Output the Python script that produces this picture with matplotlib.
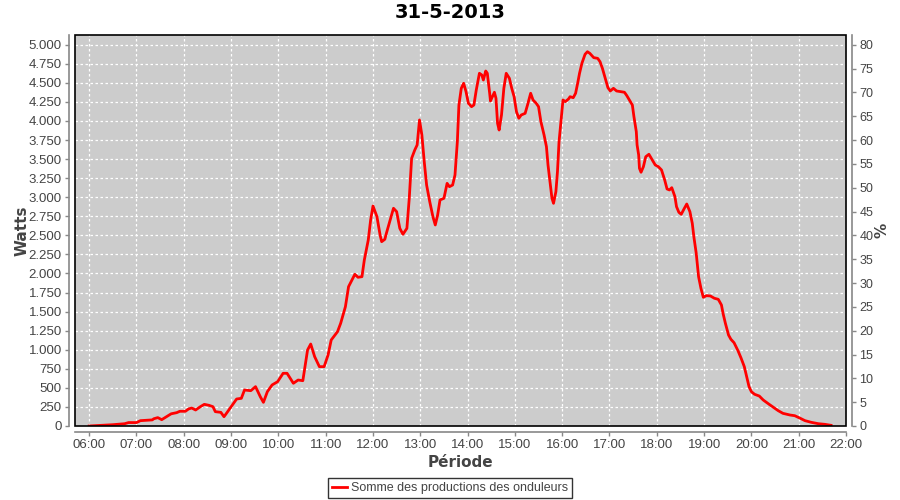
import matplotlib
matplotlib.use("Agg")
import matplotlib.pyplot as plt
import matplotlib.dates as mdates
from matplotlib.ticker import FuncFormatter, MultipleLocator
from matplotlib.patches import Rectangle
import pandas as pd

title = "31-5-2013"
series_name = "Somme des productions des onduleurs"
day = "2013-05-31"

times = [
    "06:00", "06:15", "06:30", "06:45", "06:50", "07:00", "07:05", "07:20", "07:22", "07:27",
    "07:32", "07:38", "07:44", "07:51", "07:55", "08:02", "08:06", "08:10", "08:15", "08:21",
    "08:26", "08:32", "08:37", "08:40", "08:47", "08:51", "08:53", "09:00", "09:07", "09:13",
    "09:17", "09:25", "09:31", "09:37", "09:41", "09:46", "09:52", "09:59", "10:06", "10:11",
    "10:19", "10:25", "10:31", "10:37", "10:41", "10:46", "10:52", "10:58", "11:03", "11:07",
    "11:15", "11:19", "11:25", "11:29", "11:37", "11:41", "11:46", "11:49", "11:54", "11:57",
    "12:00", "12:05", "12:09", "12:11", "12:15", "12:17", "12:26", "12:30", "12:34", "12:38",
    "12:43", "12:46", "12:49", "12:53", "12:56", "12:59", "13:02", "13:05", "13:08", "13:12",
    "13:16", "13:19", "13:22", "13:25", "13:30", "13:34", "13:37", "13:41", "13:44", "13:47",
    "13:49", "13:52", "13:55", "13:58", "14:01", "14:05", "14:08", "14:11", "14:15", "14:18",
    "14:20", "14:23", "14:25", "14:28", "14:29", "14:34", "14:36", "14:38", "14:40", "14:43",
    "14:46", "14:49", "14:53", "14:56", "14:59", "15:02", "15:05", "15:08", "15:13", "15:16",
    "15:20", "15:23", "15:27", "15:30", "15:33", "15:37", "15:40", "15:42", "15:44", "15:47",
    "15:49", "15:52", "15:54", "15:56", "15:58", "16:01", "16:04", "16:08", "16:10", "16:14",
    "16:17", "16:20", "16:22", "16:25", "16:29", "16:32", "16:35", "16:40", "16:45", "16:48",
    "16:51", "16:54", "16:58", "17:01", "17:05", "17:09", "17:14", "17:19", "17:22", "17:26",
    "17:29", "17:31", "17:34", "17:35", "17:37", "17:38", "17:40", "17:43", "17:46", "17:50",
    "17:53", "17:58", "18:02", "18:06", "18:10", "18:13", "18:16", "18:19", "18:23", "18:25",
    "18:28", "18:31", "18:35", "18:38", "18:42", "18:45", "18:47", "18:50", "18:53", "18:56",
    "18:59", "19:03", "19:08", "19:13", "19:18", "19:22", "19:24", "19:27", "19:31", "19:34",
    "19:38", "19:43", "19:47", "19:51", "19:54", "19:57", "20:00", "20:04", "20:10", "20:15",
    "20:22", "20:28", "20:34", "20:40", "20:49", "20:55", "21:02", "21:08", "21:16", "21:25",
    "21:33", "21:41",
]
watts = [
    0, 8, 17, 30, 45, 45, 70, 80, 95, 110,
    83, 122, 160, 175, 193, 193, 223, 236, 210, 253,
    284, 271, 253, 188, 179, 122, 150, 253, 354, 363,
    472, 463, 516, 385, 310, 450, 538, 581, 691, 691,
    560, 603, 594, 997, 1075, 909, 778, 778, 931, 1128,
    1237, 1347, 1564, 1827, 1989, 1950, 1958, 2177, 2439, 2701,
    2885, 2745, 2505, 2417, 2448, 2527, 2855, 2810, 2592, 2514,
    2592, 2986, 3510, 3619, 3685, 4013, 3816, 3466, 3160, 2941,
    2745, 2636, 2767, 2964, 2986, 3182, 3138, 3160, 3291, 3728,
    4209, 4428, 4494, 4384, 4232, 4187, 4209, 4406, 4625, 4603,
    4537, 4655, 4625, 4363, 4262, 4376, 4297, 3969, 3881, 4078,
    4428, 4625, 4559, 4428, 4318, 4121, 4035, 4078, 4100, 4209,
    4363, 4275, 4232, 4187, 3990, 3816, 3663, 3423, 3248, 2986,
    2920, 3073, 3335, 3728, 3947, 4275, 4253, 4288, 4318, 4305,
    4363, 4515, 4625, 4756, 4874, 4908, 4887, 4830, 4821, 4777,
    4690, 4580, 4436, 4393, 4428, 4393, 4384, 4376, 4331, 4262,
    4209, 4056, 3859, 3685, 3554, 3379, 3327, 3400, 3531, 3563,
    3510, 3423, 3400, 3357, 3226, 3108, 3095, 3125, 3007, 2876,
    2802, 2776, 2855, 2911, 2810, 2658, 2483, 2265, 1958, 1805,
    1688, 1709, 1705, 1675, 1661, 1587, 1478, 1347, 1193, 1137,
    1092, 987, 888, 778, 647, 516, 450, 416, 393, 341,
    288, 245, 201, 166, 144, 135, 101, 70, 48, 30,
    22, 9,
]

x_ticks = ["06:00", "07:00", "08:00", "09:00", "10:00", "11:00", "12:00", "13:00",
           "14:00", "15:00", "16:00", "17:00", "18:00", "19:00", "20:00", "21:00", "22:00"]

txt = "#444444"
axc = "#888888"
tick_font = "Liberation Sans"

fig = plt.figure(figsize=(9, 5), dpi=100)
ax = fig.add_axes([75 / 900, 74 / 500, 771 / 900, 391 / 500])
ax.set_facecolor("#cccccc")

t = pd.to_datetime([f"{day} {s}" for s in times])
ax.plot(t, watts, color="#ff0000", lw=2.0, label=series_name, zorder=3)

ax.set_xlim(pd.Timestamp(f"{day} 05:42"), pd.Timestamp(f"{day} 22:00"))
ymax = 5127
ax.set_ylim(0, ymax)

ax.set_xticks(pd.to_datetime([f"{day} {s}" for s in x_ticks]))
ax.xaxis.set_major_formatter(mdates.DateFormatter("%H:%M"))
ax.yaxis.set_major_locator(MultipleLocator(250))
ax.yaxis.set_major_formatter(FuncFormatter(lambda v, p: f"{int(round(v)):,}".replace(",", ".")))

ax.grid(True, color="white", linestyle=(0, (2, 2)), lw=0.9)
ax.set_axisbelow(True)

for s in ["top", "right"]:
    ax.spines[s].set_visible(False)
for s in ["left", "bottom"]:
    ax.spines[s].set_position(("outward", 4))
    ax.spines[s].set_color(axc)
    ax.spines[s].set_linewidth(1.2)
ax.tick_params(colors=axc, labelcolor=txt, labelsize=9.5, length=3, width=1, pad=2.5)
for lab in ax.get_xticklabels() + ax.get_yticklabels():
    lab.set_fontfamily(tick_font)

ax.add_patch(Rectangle((0, 0), 1, 1, transform=ax.transAxes, fill=False,
                       edgecolor="black", lw=1.2, zorder=5, clip_on=False))

ax2 = ax.twinx()
ax2.set_ylim(0, ymax * 80 / 5000)
ax2.yaxis.set_major_locator(MultipleLocator(5))
for s in ["top", "left", "bottom"]:
    ax2.spines[s].set_visible(False)
ax2.spines["right"].set_position(("outward", 4))
ax2.spines["right"].set_color(axc)
ax2.spines["right"].set_linewidth(1.2)
ax2.tick_params(colors=axc, labelcolor=txt, labelsize=9, length=3, width=1, pad=2.5)
for lab in ax2.get_yticklabels():
    lab.set_fontfamily(tick_font)
ax2.set_ylabel("%", fontsize=11, fontweight="bold", color=txt, labelpad=1)

ax.set_ylabel("Watts", fontsize=11, fontweight="bold", color=txt, labelpad=-1)
ax.set_xlabel("Période", fontsize=11, fontweight="bold", color=txt, labelpad=3)
fig.text(0.5, 0.975, title, ha="center", va="center", fontsize=14, fontweight="bold", color="black")

leg = ax.legend(loc="center", bbox_to_anchor=(0.5, 0.024), bbox_transform=fig.transFigure,
                frameon=True, fancybox=False, handlelength=1.2,
                prop={"family": tick_font, "size": 9},
                handletextpad=0.3, borderpad=0.35, borderaxespad=0)
leg.get_frame().set_edgecolor("black")
leg.get_frame().set_linewidth(1.0)
for tx in leg.get_texts():
    tx.set_color(txt)

fig.savefig("out.png", dpi=100)
